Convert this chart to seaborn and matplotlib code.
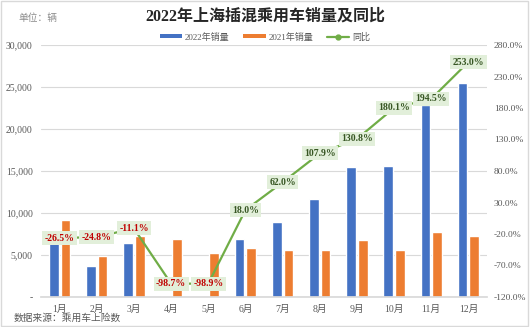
import numpy as np
import pandas as pd
import matplotlib
matplotlib.use("Agg")
import matplotlib.pyplot as plt
import seaborn as sns
from matplotlib.patches import Rectangle, Patch
from matplotlib.lines import Line2D
from matplotlib.ticker import FuncFormatter, MultipleLocator, FixedLocator

months = ["1月", "2月", "3月", "4月", "5月", "6月", "7月", "8月", "9月", "10月", "11月", "12月"]
sales_2022 = [6700, 3650, 6450, 90, 57, 6870, 8960, 11700, 15500, 15600, 22850, 25450]
sales_2021 = [9150, 4870, 7280, 6870, 5200, 5820, 5540, 5630, 6740, 5560, 7750, 7220]
yoy = [-26.5, -24.8, -11.1, -98.7, -98.9, 18.0, 62.0, 107.9, 130.8, 180.1, 194.5, 253.0]
yoy_ticks = [-120, -70, -20, 30, 80, 130, 180, 230, 280]
series_names = ["2022年销量", "2021年销量"]
yoy_name = "同比"
title = "2022年上海插混乘用车销量及同比"
unit_text = "单位：辆"
source_text = "数据来源：乘用车上险数"

BLUE = "#4472C4"
ORANGE = "#ED7D31"
GREEN = "#70AD47"
GRID = "#D9D9D9"
TXT = "#595959"

sns.set_theme(style="white")
plt.rcParams["font.family"] = ["Liberation Serif", "Noto Sans CJK SC", "DejaVu Sans"]

df = pd.DataFrame({
    "month": months * 2,
    "series": [series_names[0]] * 12 + [series_names[1]] * 12,
    "value": sales_2022 + sales_2021,
})

fig = plt.figure(figsize=(5.30, 3.27), dpi=100)
fig.patch.set_facecolor("white")
ax = fig.add_axes([41 / 530, 30 / 327, 446 / 530, 252 / 327])

sns.barplot(data=df, x="month", y="value", hue="series", order=months,
            hue_order=series_names, palette=[BLUE, ORANGE], width=0.62, gap=0.16,
            saturation=1, ax=ax, legend=False)

ax.set_ylim(0, 30000)
ax.yaxis.set_major_locator(MultipleLocator(5000))
ax.yaxis.set_major_formatter(FuncFormatter(lambda v, p: "-" if v == 0 else f"{v:,.0f}"))
ax.set_xlim(-0.5, 11.5)
ax.grid(axis="y", color=GRID, linewidth=0.8)
ax.set_axisbelow(True)
for s in ["top", "right", "left"]:
    ax.spines[s].set_visible(False)
ax.spines["bottom"].set_color(GRID)
ax.set_xlabel("")
ax.set_ylabel("")
ax.tick_params(axis="both", length=0, labelsize=7, colors=TXT)
ax.tick_params(axis="x", pad=6)
ax.tick_params(axis="y", pad=6)

ax2 = ax.twinx()
ydf = pd.DataFrame({"pos": np.arange(len(months)), "yoy": yoy})
sns.lineplot(data=ydf, x="pos", y="yoy", ax=ax2, color=GREEN, linewidth=1.6,
             marker="o", markersize=3.5, markeredgecolor=GREEN)
ax2.set_ylim(-120, 280)
ax2.yaxis.set_major_locator(FixedLocator(yoy_ticks))
ax2.yaxis.set_major_formatter(FuncFormatter(lambda v, p: f"{v:.1f}%"))
ax2.set_xlim(-0.5, 11.5)
for s in ax2.spines.values():
    s.set_visible(False)
ax2.set_xlabel("")
ax2.set_ylabel("")
ax2.tick_params(axis="y", length=0, labelsize=6.8, colors=TXT, pad=5)

for i, v in enumerate(yoy):
    col = "#C00000" if v < 0 else "#375623"
    ax2.text(i, v, f"{v:.1f}%", ha="center", va="center", fontsize=7, fontweight="bold",
             color=col, zorder=5,
             bbox=dict(boxstyle="square,pad=0.25", facecolor="#E2EFDA", edgecolor="none"))

# Title and texts
fig.text(0.5, 1 - 17 / 327, title, ha="center", va="center", fontsize=11.5,
         fontweight="bold", color="#262626")
fig.text(18 / 530, 1 - 18 / 327, unit_text, ha="left", va="center", fontsize=7, color="#8C8C8C")
fig.text(14 / 530, 1 - 318 / 327, source_text, ha="left", va="center", fontsize=7, color=TXT)

handles = [Patch(facecolor=BLUE, edgecolor="none"),
           Patch(facecolor=ORANGE, edgecolor="none"),
           Line2D([0], [0], color=GREEN, linewidth=1.6, marker="o", markersize=3.5)]
leg = fig.legend(handles, series_names + [yoy_name], loc="center",
                 bbox_to_anchor=(0.5, 1 - 37 / 327), ncol=3, frameon=False,
                 fontsize=6.5, handlelength=2.5, handleheight=0.35, columnspacing=1.5,
                 handletextpad=0.3, labelcolor=TXT)

fig.patches.append(Rectangle((0.002, 0.003), 0.995, 0.994, transform=fig.transFigure,
                             fill=False, edgecolor=GRID, linewidth=1))

fig.savefig("out.png", dpi=100, facecolor="white")
